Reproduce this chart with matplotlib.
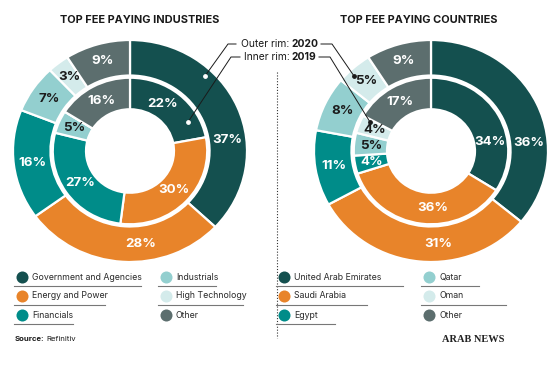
import numpy as np
import matplotlib.pyplot as plt

# Data (percent shares, outer rim = 2020, inner rim = 2019)
ind_labels = ["Government and Agencies", "Energy and Power", "Financials",
              "Industrials", "High Technology", "Other"]
ind_2020 = [37, 28, 16, 7, 3, 9]
ind_2019 = [22, 30, 27, 5, 0, 16]

cty_labels = ["United Arab Emirates", "Saudi Arabia", "Egypt",
              "Qatar", "Oman", "Other"]
cty_2020 = [36, 31, 11, 8, 5, 9]
cty_2019 = [34, 36, 4, 5, 4, 17]

colors = ["#14504f", "#e8842a", "#008c89", "#93cfcf", "#d4ebeb", "#5c6e6e"]
text_colors = ["white", "white", "white", "#1c1c1c", "#1c1c1c", "white"]

W, H = 560, 367
FONT = "Inter"
plt.rcParams["font.family"] = [FONT, "DejaVu Sans"]

fig = plt.figure(figsize=(W / 100, H / 100), dpi=100)
fig.patch.set_facecolor("white")

RX, RY = 117, 111  # outer radius in pixels (slightly squashed)


def pct_fmt(p):
    return f"{p:.0f}%" if p >= 0.5 else ""


def place(texts, r, overrides):
    for i, ang in overrides.items():
        a = np.deg2rad(ang)
        texts[i].set_position((r * np.sin(a), r * np.cos(a)))


def donut(cx, cy, outer, inner, outer_fix, inner_fix):
    ax = fig.add_axes([(cx - RX) / W, (H - cy - RY) / H, 2 * RX / W, 2 * RY / H])
    wp = dict(edgecolor="white", linewidth=1.6)
    _, _, t_out = ax.pie(outer, radius=1.0, startangle=90, counterclock=False,
                         colors=colors, autopct=pct_fmt, pctdistance=0.84,
                         wedgeprops=dict(width=0.32, **wp))
    _, _, t_in = ax.pie(inner, radius=0.66, startangle=90, counterclock=False,
                        colors=colors, autopct=pct_fmt, pctdistance=0.78,
                        wedgeprops=dict(width=0.284, **wp))
    for ts in (t_out, t_in):
        for t, c in zip(ts, text_colors):
            t.set_color(c)
            t.set_fontsize(9.6)
            t.set_fontweight("bold")
    place(t_out, 0.84, outer_fix)
    place(t_in, 0.51, inner_fix)
    ax.set_aspect("auto")
    ax.set_xlim(-1, 1)
    ax.set_ylim(-1, 1)
    ax.axis("off")
    return ax


donut(130, 151, ind_2020, ind_2019, {0: 83, 1: 174}, {0: 33})
donut(431, 151, cty_2020, cty_2019, {0: 85, 1: 176}, {0: 81, 1: 178})

# overlay in pixel coordinates for titles, notes and legends
ov = fig.add_axes([0, 0, 1, 1])
ov.set_xlim(0, W)
ov.set_ylim(H, 0)
ov.axis("off")
ov.patch.set_alpha(0)

ov.text(140, 20, "TOP FEE PAYING INDUSTRIES", ha="center", va="center",
        fontsize=7.9, fontweight="bold", color="#1a1a1a")
ov.text(419, 20, "TOP FEE PAYING COUNTRIES", ha="center", va="center",
        fontsize=7.9, fontweight="bold", color="#1a1a1a")

# rim notes
for y, word, year in [(44, "Outer rim:", "2020"), (57, "Inner rim:", "2019")]:
    ov.text(289.5, y, word, ha="right", va="center", fontsize=7.4,
            color="#1a1a1a")
    ov.text(292, y, year, ha="left", va="center", fontsize=7.4,
            fontweight="bold", color="#1a1a1a")
lk = dict(color="#1a1a1a", lw=0.7)
ov.plot([236, 228, 205], [44, 44, 76], **lk)
ov.plot([240, 231, 188], [57, 57, 122], **lk)
ov.plot([321, 332, 354], [44, 44, 76], **lk)
ov.plot([319, 330, 370], [57, 57, 122], **lk)
ov.scatter([205, 188], [76, 122], s=6, color="white", zorder=5)
ov.scatter([354, 370], [76, 122], s=6, color="#1a1a1a", zorder=5)

# dotted separator
ov.plot([277, 277], [72, 338], color="#333333", lw=0.8, ls=(0, (1, 1.6)))

# legends
rows = [277, 296, 315]
underline = [[127, 91, 59], [58, 85, 0]]


def legend(labels, x0s):
    for col in range(2):
        cx = x0s[col]
        for r in range(3):
            i = col * 3 + r
            y = rows[r]
            ov.scatter([cx], [y], s=75, color=colors[i], zorder=4, linewidths=0)
            ov.text(cx + 10, y, labels[i], ha="left", va="center",
                    fontsize=6.3, color="#2a2a2a")
            ln = underline[col][r]
            if ln:
                ov.plot([cx - 8, cx - 8 + ln], [y + 8.5, y + 8.5],
                        color="#777777", lw=0.8)


legend(ind_labels, [22, 166])
legend(cty_labels, [284, 429])

src = ov.text(15, 339, "Source:", ha="left", va="center", fontsize=5.6,
              fontweight="bold", color="#1a1a1a")
ov.annotate("Refinitiv", xy=(1, 0.5), xycoords=src, xytext=(1.5, 0),
            textcoords="offset points", ha="left", va="center",
            fontsize=5.6, color="#1a1a1a")
ov.text(505, 339, "ARAB NEWS", ha="right", va="center", fontsize=7.5,
        fontweight="bold", family="Liberation Serif", color="#222222")

fig.savefig("out.png", dpi=100)
